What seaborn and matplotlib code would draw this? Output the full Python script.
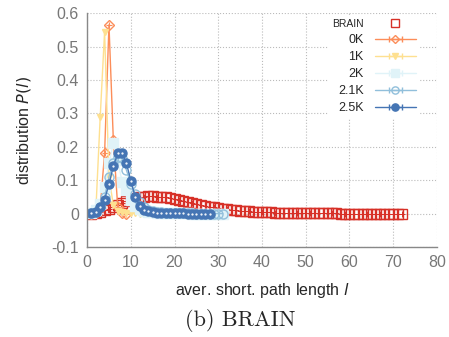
import numpy as np
import pandas as pd
import matplotlib
matplotlib.use("Agg")
import matplotlib.pyplot as plt
import seaborn as sns

# ── data ────────────────────────────────────────────────────────────
brain_x = list(range(1, 73))
brain_y = [0.000, 0.003, 0.006, 0.010, 0.015, 0.020, 0.026, 0.032, 0.037, 0.042,
           0.046, 0.049, 0.051, 0.052, 0.052, 0.051, 0.050, 0.049, 0.047, 0.045,
           0.042, 0.039, 0.036, 0.033, 0.030, 0.027, 0.024, 0.021, 0.019, 0.017,
           0.015, 0.013, 0.011, 0.010, 0.009, 0.008, 0.007, 0.006, 0.005, 0.005,
           0.004, 0.004, 0.003, 0.003, 0.003, 0.002, 0.002, 0.002, 0.002, 0.001,
           0.001, 0.001, 0.001, 0.001, 0.001, 0.001, 0.001, 0.000, 0.000, 0.000,
           0.000, 0.000, 0.000, 0.000, 0.000, 0.000, 0.000, 0.000, 0.000, 0.000,
           0.000, 0.000]

k0_x = list(range(1, 10))
k0_y = [0.000, 0.002, 0.020, 0.180, 0.565, 0.220, 0.020, 0.002, 0.000]

k1_x = list(range(1, 15))
k1_y = [0.000, 0.010, 0.290, 0.545, 0.110, 0.025, 0.008, 0.004, 0.002, 0.001,
        0.001, 0.000, 0.000, 0.000]

k2_x = list(range(1, 32))
k2_y = [0.003, 0.010, 0.030, 0.080, 0.150, 0.210, 0.160, 0.095, 0.070, 0.040,
        0.022, 0.013, 0.008, 0.005, 0.004, 0.003, 0.002, 0.002, 0.001, 0.001,
        0.001, 0.001, 0.001, 0.000, 0.000, 0.000, 0.000, 0.000, 0.000, 0.000,
        0.000]

k21_x = list(range(1, 32))
k21_y = [0.002, 0.005, 0.020, 0.050, 0.110, 0.150, 0.170, 0.165, 0.130, 0.090,
         0.060, 0.035, 0.020, 0.012, 0.008, 0.005, 0.004, 0.003, 0.002, 0.002,
         0.001, 0.001, 0.001, 0.001, 0.000, 0.000, 0.000, 0.000, 0.000, 0.000,
         0.000]

k25_x = list(range(1, 29))
k25_y = [0.003, 0.004, 0.019, 0.042, 0.088, 0.142, 0.180, 0.182, 0.150, 0.099,
         0.049, 0.024, 0.012, 0.007, 0.004, 0.003, 0.002, 0.002, 0.001, 0.001,
         0.001, 0.001, 0.000, 0.000, 0.000, 0.000, 0.000, 0.000]

x_ticks = [0, 10, 20, 30, 40, 50, 60, 70, 80]
y_ticks = [-0.1, 0, 0.1, 0.2, 0.3, 0.4, 0.5, 0.6]
y_tick_labels = ["-0.1", "0", "0.1", "0.2", "0.3", "0.4", "0.5", "0.6"]

# ── style ──────────────────────────────────────────────────────────
sns.set_style("white")
plt.rcParams["font.family"] = ["Liberation Sans", "DejaVu Sans"]

fig = plt.figure(figsize=(4.49, 3.37), dpi=100)
ax = fig.add_axes([0.194, 0.267, 0.779, 0.694])

series = [
    # label, x, y, colour, marker, filled, line
    ("BRAIN", brain_x, brain_y, "#d73027", "s", False, False),
    ("0K", k0_x, k0_y, "#fc8d59", "D", False, True),
    ("1K", k1_x, k1_y, "#fee090", "v", True, True),
    ("2K", k2_x, k2_y, "#e0f3f8", "s", True, True),
    ("2.1K", k21_x, k21_y, "#91bfdb", "o", False, True),
    ("2.5K", k25_x, k25_y, "#4575b4", "o", True, True),
]

handles = []
for label, xs, ys, col, mk, filled, line in series:
    df = pd.DataFrame({"x": xs, "y": ys})
    ms = {"s": 6.5, "o": 6.5, "D": 5, "v": 5}[mk]
    sns.lineplot(data=df, x="x", y="y", ax=ax, color=col,
                 linewidth=1.0 if line else 0,
                 marker=mk, markersize=ms,
                 markerfacecolor=col if filled else "none",
                 markeredgecolor=col, markeredgewidth=1.0,
                 legend=False)
    if mk == "D":
        ax.plot(xs, ys, linestyle="none", marker="+", markersize=4,
                color=col, markeredgewidth=0.8)
    if label == "BRAIN":
        ax.plot(xs, ys, linestyle="none", marker="+", markersize=5,
                color=col, markeredgewidth=0.7)
    if label == "2.5K":
        ax.plot(xs, ys, linestyle="none", marker=".", markersize=1.2,
                color="white")
    h = ax.errorbar([np.nan], [np.nan], xerr=[np.nan], color=col,
                    linewidth=1.0 if line else 0, elinewidth=1.0 if line else 0,
                    capsize=2 if line else 0,
                    marker=mk, markersize=ms * 0.8,
                    markerfacecolor=col if filled else "none",
                    markeredgecolor=col, label=label)
    handles.append(h)

ax.set_xlim(0, 80)
ax.set_ylim(-0.1, 0.6)
ax.set_xticks(x_ticks)
ax.set_yticks(y_ticks)
ax.set_yticklabels(y_tick_labels)
ax.tick_params(axis="both", colors="#777777", labelsize=11.5, length=0, pad=6)
ax.grid(True, color="#bbbbbb", linestyle=":", linewidth=0.8)
for s in ["top", "right"]:
    ax.spines[s].set_visible(False)
for s in ["left", "bottom"]:
    ax.spines[s].set_color("#888888")
    ax.spines[s].set_linewidth(1.0)

ax.set_xlabel("aver. short. path length $l$", fontsize=11.5, labelpad=8)
ax.set_ylabel("distribution $P(l)$", fontsize=11.5, labelpad=13)

leg = ax.legend(handles=handles, loc="upper right", bbox_to_anchor=(0.969, 1.02),
                markerfirst=False, frameon=True, fontsize=9,
                handlelength=3.3, handletextpad=0.9,
                labelspacing=0.4, borderpad=0.3)
leg.get_frame().set_edgecolor("none")
leg.get_frame().set_facecolor("white")
leg.get_frame().set_alpha(1)
leg.get_texts()[0].set_fontsize(7.5)

fig.text(0.535, 0.05, "(b) BRAIN", family="cmr10", fontsize=16,
         ha="center", va="center")

fig.savefig("out.png", dpi=100)
